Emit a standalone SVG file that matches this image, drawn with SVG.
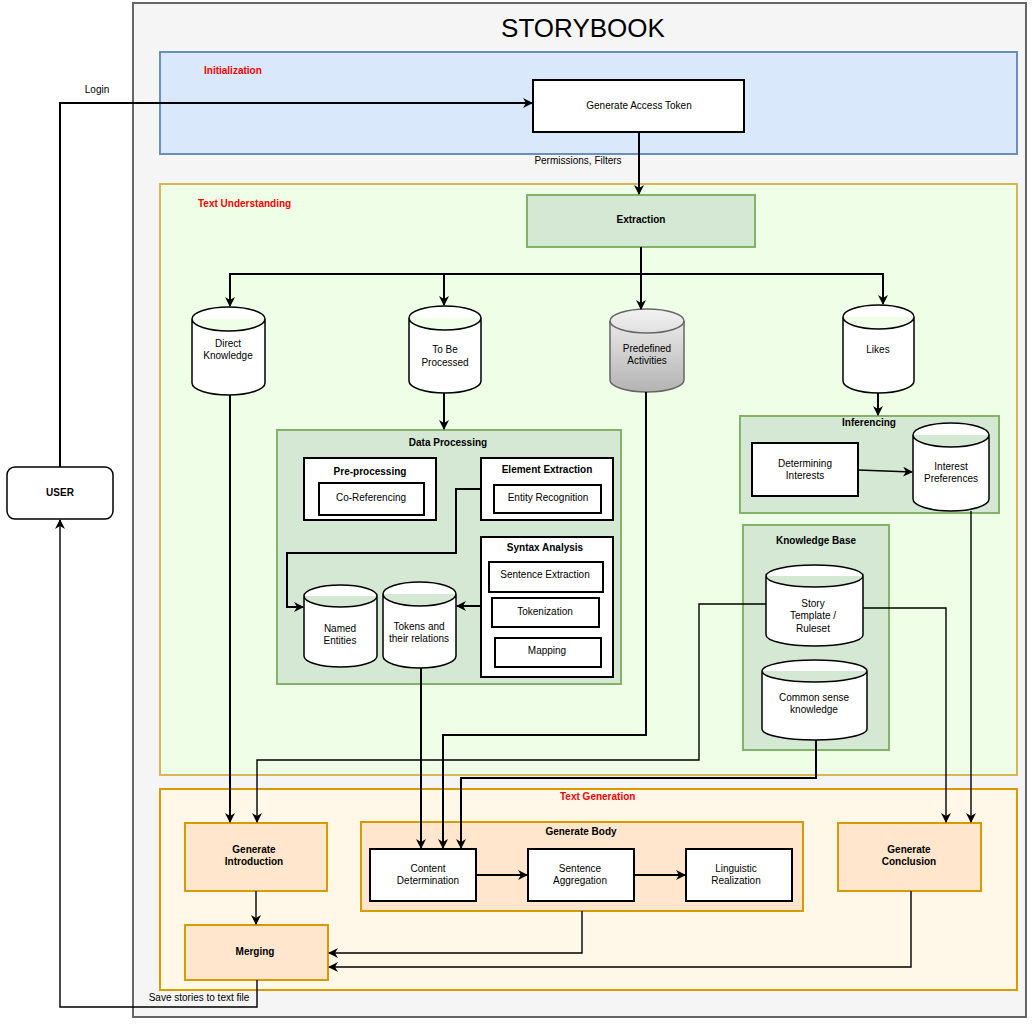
<svg xmlns="http://www.w3.org/2000/svg" width="1032" height="1024" viewBox="0 0 1032 1024">
<defs>
<style>
.t{font-family:"Liberation Sans",Arial,sans-serif;font-size:10px;text-anchor:middle;fill:#000}
.b{font-weight:bold}
.red{fill:#ff0000;font-weight:bold;text-anchor:start}
.c{fill:none;stroke:#000;stroke-width:2}
.ct{fill:none;stroke:#000;stroke-width:1.4}
.box{fill:#fff;stroke:#000;stroke-width:2}
.grn{fill:#d5e8d4;stroke:#82b366;stroke-width:2}
.org{fill:#ffe6cc;stroke:#d79b00;stroke-width:2}
.cyl{fill:#fff;stroke:#000;stroke-width:1.5}
</style>
<linearGradient id="gray" x1="0" y1="0" x2="0" y2="1">
<stop offset="0" stop-color="#f2f2f2"/>
<stop offset="1" stop-color="#b3b3b3"/>
</linearGradient>
<marker id="arr" viewBox="0 0 10 10" refX="9" refY="5" markerWidth="10" markerHeight="10" markerUnits="userSpaceOnUse" orient="auto">
<path d="M0,0 L10,5 L0,10 L3,5 Z" fill="#000"/>
</marker>
</defs>

<g id="storybook">
<rect x="133" y="3" width="893" height="1014" fill="#f5f5f5" stroke="#666666" stroke-width="2"/>
<text x="583" y="37" style="font-family:'Liberation Sans',Arial,sans-serif;font-size:26px;text-anchor:middle">STORYBOOK</text>
</g>

<g id="initialization">
<rect x="160" y="52" width="857" height="102" fill="#dae8fc" stroke="#6c8ebf" stroke-width="2"/>
<text class="t red" x="204" y="74">Initialization</text>
</g>

<g id="text-understanding">
<rect x="160" y="184" width="857" height="591" fill="#effee6" stroke="#d6b656" stroke-width="2"/>
<text class="t red" x="198" y="207">Text Understanding</text>
</g>

<g id="text-generation">
<rect x="160" y="789" width="857" height="201" fill="#fff7e8" stroke="#d79b00" stroke-width="2"/>
<text class="t red" x="560" y="800">Text Generation</text>
</g>

<g id="user">
<rect x="7" y="467" width="106" height="52" rx="8" fill="#fff" stroke="#000" stroke-width="1.5"/>
<text class="t b" x="60" y="496">USER</text>
</g>

<g id="generate-access-token">
<rect class="box" x="533" y="80" width="211" height="52"/>
<text class="t" x="639" y="109">Generate Access Token</text>
</g>

<g id="extraction">
<rect class="grn" x="527" y="195" width="228" height="52"/>
<text class="t b" x="641" y="223">Extraction</text>
</g>

<g id="direct-knowledge">
<path class="cyl" d="M192,319 A36.5,12 0 0 1 265,319 L265,383 A36.5,12 0 0 1 192,383 Z M192,319 A36.5,12 0 0 0 265,319"/>
<text class="t" x="228" y="347">Direct</text>
<text class="t" x="228" y="359">Knowledge</text>
</g>

<g id="to-be-processed">
<path class="cyl" d="M409,318 A36,12 0 0 1 481,318 L481,381 A36,12 0 0 1 409,381 Z M409,318 A36,12 0 0 0 481,318"/>
<text class="t" x="445" y="353">To Be</text>
<text class="t" x="445" y="366">Processed</text>
</g>

<g id="predefined-activities">
<path d="M610,321 A37,12 0 0 1 684,321 L684,380 A37,12 0 0 1 610,380 Z" fill="url(#gray)" stroke="#666" stroke-width="1.5"/>
<path d="M610,321 A37,12 0 0 0 684,321" fill="none" stroke="#666" stroke-width="1.5"/>
<text class="t" x="647" y="352">Predefined</text>
<text class="t" x="647" y="364">Activities</text>
</g>

<g id="likes">
<path class="cyl" d="M843,317 A35.5,12 0 0 1 914,317 L914,381 A35.5,12 0 0 1 843,381 Z M843,317 A35.5,12 0 0 0 914,317"/>
<text class="t" x="878" y="353">Likes</text>
</g>

<g id="inferencing">
<rect class="grn" x="740" y="416" width="259" height="97"/>
<text class="t b" x="869" y="426">Inferencing</text>
</g>

<g id="determining-interests">
<rect class="box" x="752" y="443" width="106" height="53"/>
<text class="t" x="805" y="467">Determining</text>
<text class="t" x="805" y="479">Interests</text>
</g>

<g id="interest-preferences">
<path class="cyl" d="M913,435 A38,12 0 0 1 989,435 L989,499 A38,12 0 0 1 913,499 Z M913,435 A38,12 0 0 0 989,435"/>
<text class="t" x="951" y="470">Interest</text>
<text class="t" x="951" y="482">Preferences</text>
</g>

<g id="knowledge-base">
<rect class="grn" x="743" y="525" width="146" height="225"/>
<text class="t b" x="816" y="544">Knowledge Base</text>
</g>

<g id="story-template">
<path class="cyl" d="M766,576 A48.5,11 0 0 1 863,576 L863,635 A48.5,11 0 0 1 766,635 Z M766,576 A48.5,11 0 0 0 863,576"/>
<text class="t" x="813" y="607">Story</text>
<text class="t" x="813" y="619">Template /</text>
<text class="t" x="813" y="632">Ruleset</text>
</g>

<g id="common-sense-knowledge">
<path class="cyl" d="M762,671 A52.5,11 0 0 1 867,671 L867,729 A52.5,11 0 0 1 762,729 Z M762,671 A52.5,11 0 0 0 867,671"/>
<text class="t" x="814" y="701">Common sense</text>
<text class="t" x="814" y="713">knowledge</text>
</g>

<g id="data-processing">
<rect class="grn" x="277" y="430" width="344" height="254"/>
<text class="t b" x="448" y="446">Data Processing</text>
</g>

<g id="pre-processing">
<rect class="box" x="304" y="458" width="132" height="62"/>
<text class="t b" x="370" y="475">Pre-processing</text>
</g>
<g id="co-referencing">
<rect class="box" x="319" y="483" width="105" height="32"/>
<text class="t" x="371" y="501">Co-Referencing</text>
</g>

<g id="element-extraction">
<rect class="box" x="481" y="458" width="132" height="62"/>
<text class="t b" x="547" y="473">Element Extraction</text>
</g>
<g id="entity-recognition">
<rect class="box" x="494" y="485" width="107" height="28"/>
<text class="t" x="548" y="501">Entity Recognition</text>
</g>

<g id="syntax-analysis">
<rect class="box" x="481" y="537" width="132" height="140"/>
<text class="t b" x="545" y="551">Syntax Analysis</text>
</g>
<g id="sentence-extraction">
<rect class="box" x="489" y="562" width="114" height="30"/>
<text class="t" x="545" y="578">Sentence Extraction</text>
</g>
<g id="tokenization">
<rect class="box" x="492" y="598" width="107" height="29"/>
<text class="t" x="545" y="615">Tokenization</text>
</g>
<g id="mapping">
<rect class="box" x="495" y="638" width="106" height="29"/>
<text class="t" x="547" y="654">Mapping</text>
</g>

<g id="named-entities">
<path class="cyl" d="M304,596 A36.5,11 0 0 1 377,596 L377,656 A36.5,11 0 0 1 304,656 Z M304,596 A36.5,11 0 0 0 377,596"/>
<text class="t" x="340" y="632">Named</text>
<text class="t" x="340" y="644">Entities</text>
</g>

<g id="tokens-relations">
<path class="cyl" d="M383,594 A36.5,12 0 0 1 456,594 L456,656 A36.5,12 0 0 1 383,656 Z M383,594 A36.5,12 0 0 0 456,594"/>
<text class="t" x="419" y="630">Tokens and</text>
<text class="t" x="419" y="642">their relations</text>
</g>

<g id="generate-introduction">
<rect class="org" x="185" y="823" width="142" height="68"/>
<text class="t b" x="254" y="853">Generate</text>
<text class="t b" x="254" y="865">Introduction</text>
</g>

<g id="generate-body">
<rect class="org" x="361" y="822" width="442" height="89"/>
<text class="t b" x="581" y="835">Generate Body</text>
</g>
<g id="content-determination">
<rect class="box" x="370" y="849" width="106" height="52"/>
<text class="t" x="428" y="872">Content</text>
<text class="t" x="428" y="884">Determination</text>
</g>
<g id="sentence-aggregation">
<rect class="box" x="528" y="849" width="106" height="52"/>
<text class="t" x="580" y="872">Sentence</text>
<text class="t" x="580" y="884">Aggregation</text>
</g>
<g id="linguistic-realization">
<rect class="box" x="686" y="849" width="106" height="52"/>
<text class="t" x="736" y="872">Linguistic</text>
<text class="t" x="736" y="884">Realization</text>
</g>

<g id="generate-conclusion">
<rect class="org" x="838" y="823" width="143" height="68"/>
<text class="t b" x="909" y="853">Generate</text>
<text class="t b" x="909" y="865">Conclusion</text>
</g>

<g id="merging">
<rect class="org" x="185" y="925" width="143" height="55"/>
<text class="t b" x="255" y="955">Merging</text>
</g>

<g id="connectors">
<path class="c" d="M60,467 L60,103 L532,103" marker-end="url(#arr)"/>
<text class="t" x="97" y="93">Login</text>
<path class="c" d="M639,132 L639,194" marker-end="url(#arr)"/>
<text class="t" x="578" y="164">Permissions, Filters</text>
<path class="c" d="M641,247 L641,309" marker-end="url(#arr)"/>
<path class="c" d="M641,274 L230,274 L230,306" marker-end="url(#arr)"/>
<path class="c" d="M444,274 L444,305" marker-end="url(#arr)"/>
<path class="c" d="M641,274 L883,274 L883,304" marker-end="url(#arr)"/>
<path class="c" d="M444,393 L444,429" marker-end="url(#arr)"/>
<path class="c" d="M878,393 L878,415" marker-end="url(#arr)"/>
<path class="ct" d="M858,470 L912,472" marker-end="url(#arr)"/>
<path class="c" d="M481,489 L456,489 L456,553 L287,553 L287,607 L303,607" marker-end="url(#arr)"/>
<path class="c" d="M481,606 L457,606" marker-end="url(#arr)"/>
<path class="c" d="M230,395 L230,822" marker-end="url(#arr)"/>
<path class="ct" d="M766,604 L699,604 L699,760 L257,760 L257,822" marker-end="url(#arr)"/>
<path class="ct" d="M863,608 L946,608 L946,822" marker-end="url(#arr)"/>
<path class="ct" d="M971,511 L971,822" marker-end="url(#arr)"/>
<path class="c" d="M421,668 L421,848" marker-end="url(#arr)"/>
<path class="c" d="M646,392 L646,735 L443,735 L443,848" marker-end="url(#arr)"/>
<path class="c" d="M816,740 L816,778 L461,778 L461,848" marker-end="url(#arr)"/>
<path class="c" d="M476,875 L527,875" marker-end="url(#arr)"/>
<path class="c" d="M634,875 L685,875" marker-end="url(#arr)"/>
<path class="ct" d="M256,891 L256,924" marker-end="url(#arr)"/>
<path class="ct" d="M582,911 L582,953 L329,953" marker-end="url(#arr)"/>
<path class="ct" d="M911,891 L911,967 L329,967" marker-end="url(#arr)"/>
<path class="ct" d="M257,980 L257,1007 L60,1007 L60,520" marker-end="url(#arr)"/>
<rect x="144" y="991" width="110" height="12" fill="#f5f5f5"/>
<text class="t" x="199" y="1001">Save stories to text file</text>
</g>
</svg>
